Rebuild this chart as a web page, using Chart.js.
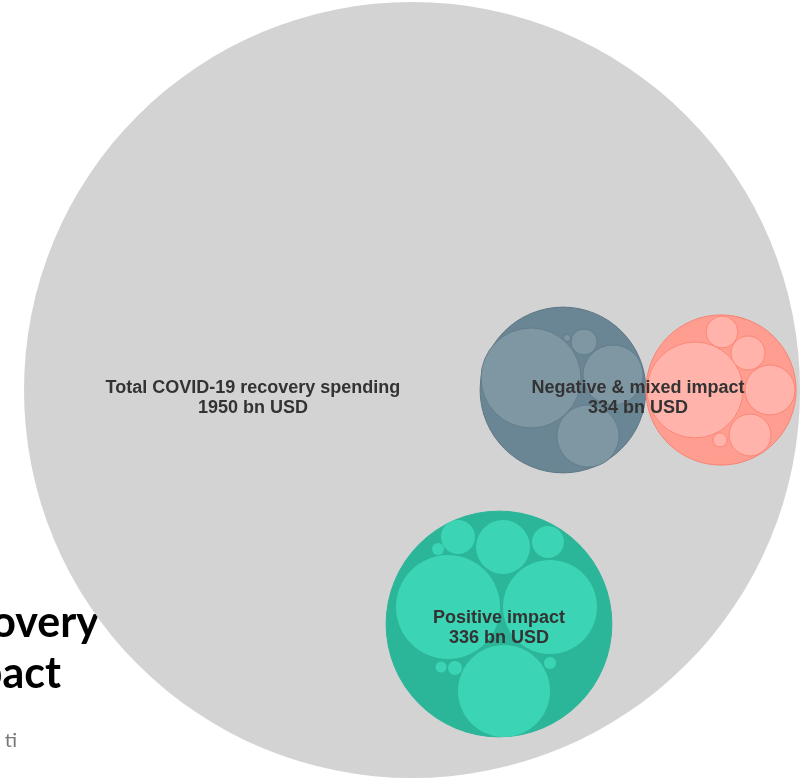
<!DOCTYPE html>
<html>
<head>
<meta charset="utf-8">
<title>COVID-19 recovery spending by impact</title>
<script src="https://cdn.jsdelivr.net/npm/chart.js@4"></script>
<style>
  html, body { margin: 0; padding: 0; background: #fff; overflow: hidden; }
  #wrap { width: 807px; height: 778px; }
</style>
</head>
<body>
<div id="wrap"><canvas id="packChart" width="807" height="778"></canvas></div>
<script>
// ---- data (bn USD) ----
const totalLabel = 'Total COVID-19 recovery spending';
const totalValue = 1950;

const groupNames = ['Negative & mixed impact', 'Positive impact'];
const groupTotals = [334, 336];

// bubble sizes (bn USD equivalent of the drawn areas)
const negativeSize = 89;
const mixedSize = 73;
const positiveSize = 165;

const negativeItems = [32.4, 11.7, 12.5, 2.2, 0.16];
const mixedItems = [29.8, 3.3, 3.75, 8.1, 5.7, 0.63];
const positiveItems = [35.0, 28.6, 27.4, 9.4, 3.75, 3.3, 0.47, 0.39, 0.63, 0.47];

// ---- packing layout (chart units, origin = centre of the total bubble) ----
const groupX = [151, 309, 87];
const groupY = [0, 0, -234];
const negativeX = [119, 201, 176, 172, 155];
const negativeY = [12, 15, -46, 48, 52];
const mixedX = [283, 310, 336, 358, 338, 308];
const mixedY = [0, 58, 37, 0, -45, -50];
const positiveX = [36, 138, 92, 91, 46, 136, 26, 29, 43, 138];
const positiveY = [-217, -217, -301, -157, -147, -152, -159, -277, -278, -273];

const xRange = [-412, 395];
const yRange = [-388, 390];
const TOTAL_RADIUS = 388; // chart units of the total bubble

// the packed bubbles fill the whole canvas: no extra layout padding for big radii
if (Chart.BubbleController) {
  Chart.BubbleController.prototype.getMaxOverflow = function () { return false; };
}

function points(values, xs, ys) {
  return values.map((v, i) => ({ x: xs[i], y: ys[i], v: v }));
}

// radius from the value, via the x scale (area ~ value)
function radiusFor(ctx) {
  const item = ctx.raw || (ctx.dataset && ctx.dataset.data[ctx.dataIndex]);
  if (!item) return 0;
  const xs = ctx.chart.scales.x;
  const width = (xs && xs.width) || ctx.chart.width;
  const pxPerUnit = width / (xRange[1] - xRange[0]);
  return Math.sqrt(item.v / totalValue) * TOTAL_RADIUS * pxPerUnit;
}

const labelPlugin = {
  id: 'packLabels',
  beforeDatasetsDraw(chart) {
    const c = chart.ctx;
    c.save();
    c.fillStyle = '#000';
    c.textAlign = 'right';
    c.textBaseline = 'alphabetic';
    c.font = 'bold 43px Lato, "Open Sans", sans-serif';
    c.fillText('COVID-19 recovery', 99, 637);
    c.fillText('spending by impact', 61, 688);
    c.fillStyle = '#777';
    c.font = '20px Lato, "Open Sans", sans-serif';
    c.fillText('ti', 17, 747);
    c.restore();
  },
  afterDatasetsDraw(chart) {
    const c = chart.ctx;
    const x = chart.scales.x, y = chart.scales.y;
    const R = TOTAL_RADIUS * x.width / (x.max - x.min);
    const items = [
      { px: x.getPixelForValue(0) - 0.41 * R, py: y.getPixelForValue(0) + 8,
        lines: [totalLabel, totalValue + ' bn USD'] },
      { px: (x.getPixelForValue(groupX[0]) + x.getPixelForValue(groupX[1])) / 2 - 4,
        py: y.getPixelForValue(groupY[0]) + 8,
        lines: [groupNames[0], groupTotals[0] + ' bn USD'] },
      { px: x.getPixelForValue(groupX[2]), py: y.getPixelForValue(groupY[2]) + 4,
        lines: [groupNames[1], groupTotals[1] + ' bn USD'] }
    ];
    c.save();
    c.font = 'bold 18px "Liberation Sans", Arial, sans-serif';
    c.textAlign = 'center';
    c.textBaseline = 'middle';
    c.fillStyle = '#333';
    items.forEach(it => {
      c.fillText(it.lines[0], it.px, it.py - 10);
      c.fillText(it.lines[1], it.px, it.py + 10);
    });
    c.restore();
  }
};

new Chart(document.getElementById('packChart'), {
  type: 'bubble',
  data: {
    datasets: [
      {
        label: 'Positive items',
        data: points(positiveItems, positiveX, positiveY),
        radius: radiusFor,
        backgroundColor: '#3bd5b5',
        borderColor: '#3bd5b5',
        borderWidth: 0,
        order: 1
      },
      {
        label: 'Mixed items',
        data: points(mixedItems, mixedX, mixedY),
        radius: radiusFor,
        backgroundColor: '#ffb3aa',
        borderColor: '#fb8778',
        borderWidth: 1,
        order: 1
      },
      {
        label: 'Negative items',
        data: points(negativeItems, negativeX, negativeY),
        radius: radiusFor,
        backgroundColor: '#7f97a3',
        borderColor: '#627d8b',
        borderWidth: 1,
        order: 1
      },
      {
        label: 'Groups',
        data: points([negativeSize, mixedSize, positiveSize], groupX, groupY),
        radius: radiusFor,
        backgroundColor: ['#6a8695', '#ff9d90', '#2bb699'],
        borderColor: ['#5e7886', '#fa8272', '#2bb699'],
        borderWidth: 1,
        order: 2
      },
      {
        label: totalLabel,
        data: points([totalValue], [0], [0]),
        radius: radiusFor,
        backgroundColor: '#d3d3d3',
        borderColor: '#d3d3d3',
        borderWidth: 0,
        order: 3
      }
    ]
  },
  options: {
    responsive: false,
    animation: false,
    events: [],
    layout: { padding: 0 },
    plugins: {
      legend: { display: false },
      tooltip: { enabled: false }
    },
    scales: {
      x: { type: 'linear', min: xRange[0], max: xRange[1], display: false },
      y: { type: 'linear', min: yRange[0], max: yRange[1], display: false }
    }
  },
  plugins: [labelPlugin]
});
</script>
</body>
</html>
